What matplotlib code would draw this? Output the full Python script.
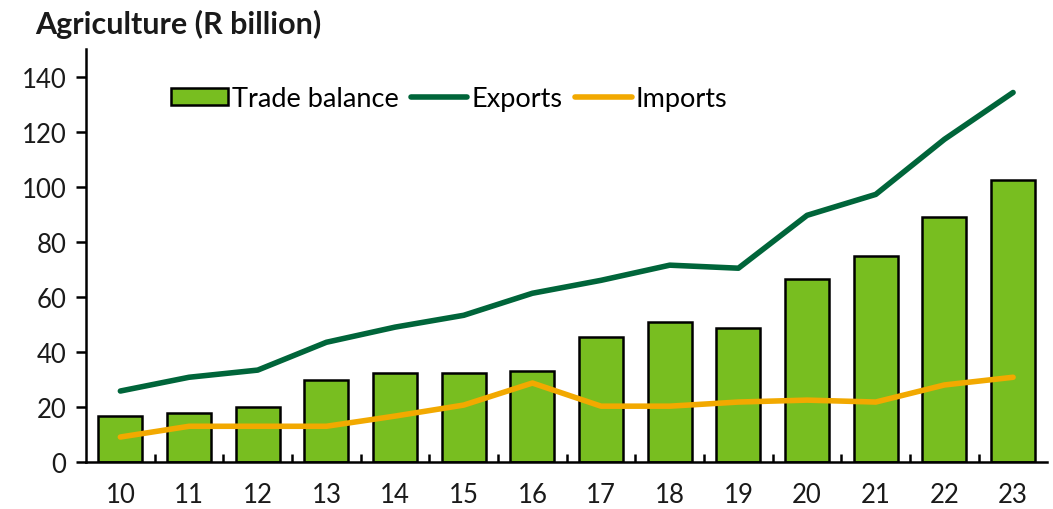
import numpy as np
import matplotlib.pyplot as plt
from matplotlib.ticker import FixedLocator

years = ['10', '11', '12', '13', '14', '15', '16', '17', '18', '19', '20', '21', '22', '23']
trade_balance = [16.7, 17.8, 20.0, 29.8, 32.4, 32.4, 33.0, 45.4, 50.8, 48.6, 66.4, 74.8, 88.9, 102.6]
exports = [25.8, 30.8, 33.4, 43.5, 49.0, 53.3, 61.3, 66.0, 71.5, 70.4, 89.6, 97.2, 117.2, 134.2]
imports = [9.1, 13.0, 13.0, 13.0, 16.7, 20.7, 28.7, 20.3, 20.3, 21.8, 22.5, 21.8, 28.0, 30.8]

plt.rcParams['font.family'] = ['Lato', 'DejaVu Sans']

fig = plt.figure(figsize=(10.53, 5.10), dpi=100)
ax = fig.add_axes([0.0817, 0.092, 0.913, 0.81])

x = np.arange(len(years))
bars = ax.bar(x, trade_balance, width=0.64, color='#78BE20', edgecolor='black', linewidth=1.8,
              label='Trade balance', zorder=2)
l_exp, = ax.plot(x, exports, color='#00653A', linewidth=4.0, solid_capstyle='round',
                 label='Exports', zorder=3)
l_imp, = ax.plot(x, imports, color='#F2A900', linewidth=4.0, solid_capstyle='round',
                 label='Imports', zorder=3)

ax.set_xlim(-0.5, len(years) - 0.5)
ax.set_ylim(0, 150)
ax.set_yticks(np.arange(0, 141, 20))
ax.set_xticks(x)
ax.set_xticklabels(years)
ax.xaxis.set_minor_locator(FixedLocator(np.arange(0.5, len(years) - 1, 1.0)))

for s in ['top', 'right']:
    ax.spines[s].set_visible(False)
ax.spines['left'].set_linewidth(1.8)
ax.spines['bottom'].set_linewidth(1.8)

ax.tick_params(axis='y', direction='out', length=7, width=1.8, labelsize=18.5, pad=7,
               colors='black', labelcolor='#1a1a1a')
ax.tick_params(axis='x', which='major', length=0, labelsize=18.5, pad=14, labelcolor='#1a1a1a')
ax.tick_params(axis='x', which='minor', direction='in', length=6, width=1.8)

ax.legend([bars, l_exp, l_imp], ['Trade balance', 'Exports', 'Imports'],
          loc='center left', bbox_to_anchor=(0.088, 0.88), ncol=3, frameon=False,
          fontsize=19.5, handlelength=2.1, handleheight=0.6, handletextpad=0.15,
          columnspacing=0.45, borderaxespad=0, borderpad=0)

fig.text(0.033, 0.952, 'Agriculture (R billion)', fontsize=22, fontweight='bold',
         ha='left', va='center', color='#1a1a1a')

fig.savefig('out.png', dpi=100)
